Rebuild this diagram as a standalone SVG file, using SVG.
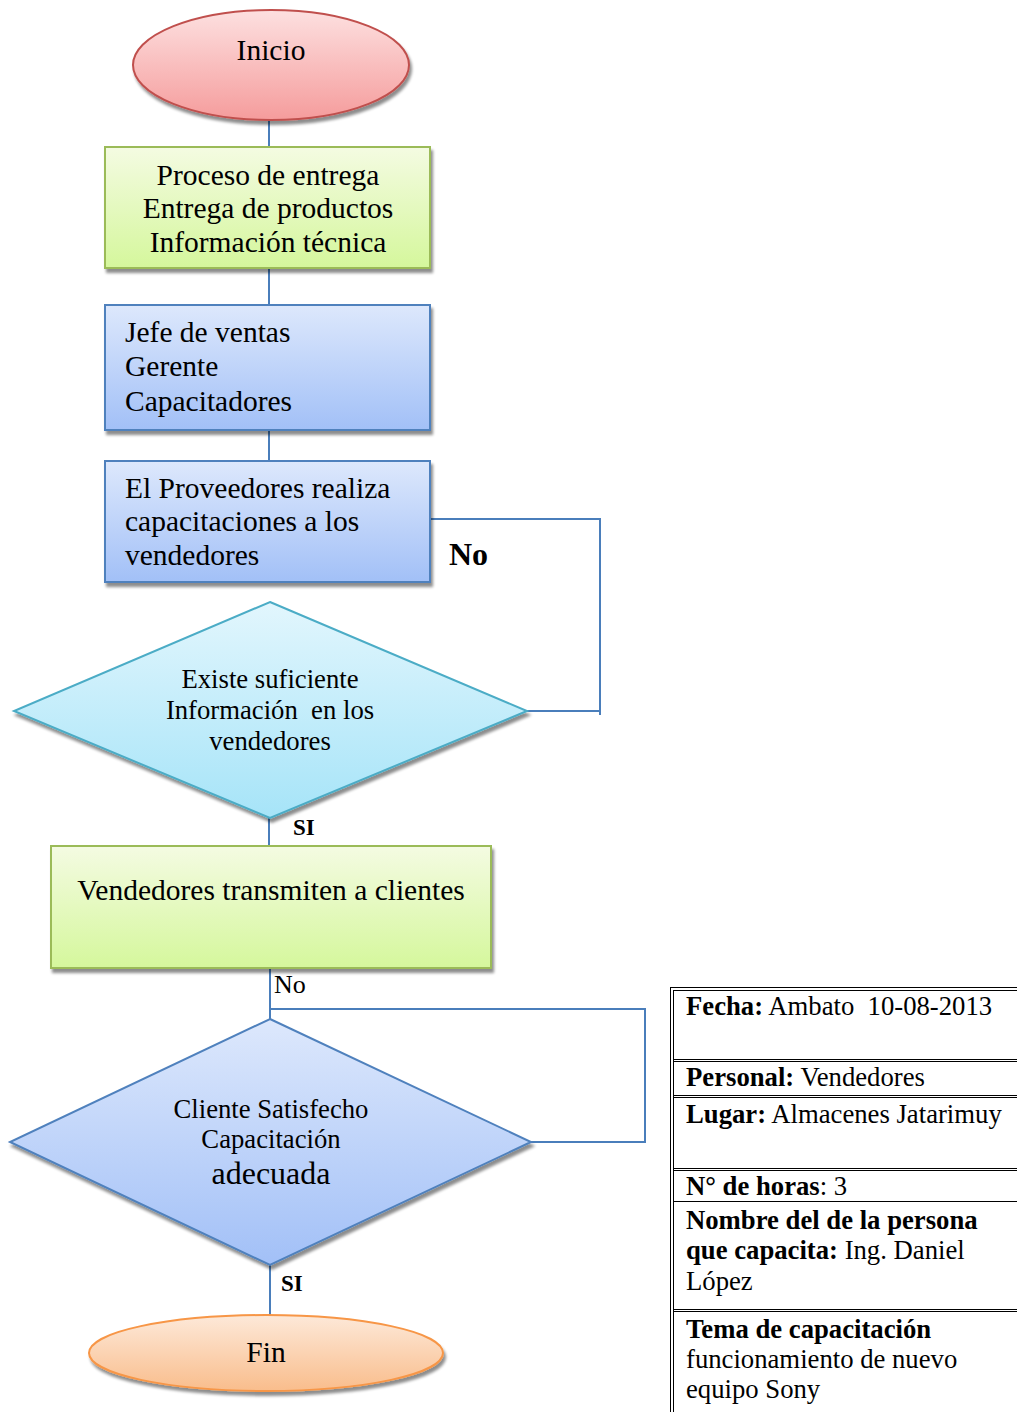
<svg xmlns="http://www.w3.org/2000/svg" width="1017" height="1412" viewBox="0 0 1017 1412">
  <defs>
    <linearGradient id="gRed" x1="0" y1="0" x2="0" y2="1">
      <stop offset="0" stop-color="#fde0e0"/>
      <stop offset="1" stop-color="#f59c9c"/>
    </linearGradient>
    <linearGradient id="gGreen" x1="0" y1="0" x2="0" y2="1">
      <stop offset="0" stop-color="#f4fbe2"/>
      <stop offset="1" stop-color="#d5f79c"/>
    </linearGradient>
    <linearGradient id="gBlue" x1="0" y1="0" x2="0" y2="1">
      <stop offset="0" stop-color="#dde8fc"/>
      <stop offset="1" stop-color="#a2c0f7"/>
    </linearGradient>
    <linearGradient id="gCyan" x1="0" y1="0" x2="0" y2="1">
      <stop offset="0" stop-color="#e2f6fd"/>
      <stop offset="1" stop-color="#a6e4f8"/>
    </linearGradient>
    <linearGradient id="gOrange" x1="0" y1="0" x2="0" y2="1">
      <stop offset="0" stop-color="#fde9d9"/>
      <stop offset="1" stop-color="#f9bd8c"/>
    </linearGradient>
    <filter id="shadow" x="-10%" y="-10%" width="125%" height="130%">
      <feGaussianBlur in="SourceAlpha" stdDeviation="1.5"/>
      <feOffset dx="2" dy="4" result="b"/>
      <feComponentTransfer><feFuncA type="linear" slope="0.45"/></feComponentTransfer>
      <feMerge><feMergeNode/><feMergeNode in="SourceGraphic"/></feMerge>
    </filter>
  </defs>
  <style>
    text { font-family: "Liberation Serif", "Times New Roman", serif; fill: #000; }
    .conn { fill: none; stroke: #4a7ebb; stroke-width: 2; }
    .green { fill: url(#gGreen); stroke: #9bbb59; stroke-width: 2; }
    .blue { fill: url(#gBlue); stroke: #4f81bd; stroke-width: 2; }
    .big { font-size: 29.5px; }
    .dia { font-size: 26.7px; }
    .mid { text-anchor: middle; }
    .tbl { fill: none; stroke: #000; stroke-width: 1; }
    .cell { font-size: 26.7px; }
    .b { font-weight: bold; }
  </style>

  <rect width="1017" height="1412" fill="#ffffff"/>

  <!-- connectors -->
  <g id="connectors">
    <line class="conn" x1="269" y1="120" x2="269" y2="147"/>
    <line class="conn" x1="269" y1="268" x2="269" y2="305"/>
    <line class="conn" x1="269" y1="430" x2="269" y2="461"/>
    <polyline class="conn" points="430,519 600,519 600,715"/>
    <line class="conn" x1="527" y1="711" x2="600" y2="711"/>
    <line class="conn" x1="269" y1="818" x2="269" y2="846"/>
    <line class="conn" x1="270" y1="968" x2="270" y2="1019"/>
    <polyline class="conn" points="270,1009 645,1009 645,1142 531,1142"/>
    <line class="conn" x1="270" y1="1265" x2="270" y2="1316"/>
    <text x="449" y="565" font-size="32" class="b">No</text>
    <text x="293" y="835" font-size="23" class="b">SI</text>
    <text x="274" y="993" font-size="26">No</text>
    <text x="281" y="1291" font-size="23" class="b">SI</text>
  </g>

  <g id="inicio">
    <ellipse cx="271" cy="65" rx="138" ry="55" fill="url(#gRed)" stroke="#c0504d" stroke-width="2" filter="url(#shadow)"/>
    <text x="271" y="60" class="big mid">Inicio</text>
  </g>

  <g id="proceso">
    <rect x="105" y="147" width="325" height="121" class="green" filter="url(#shadow)"/>
    <text x="268" y="185" class="big mid">Proceso de entrega</text>
    <text x="268" y="218" class="big mid">Entrega de productos</text>
    <text x="268" y="252" class="big mid">Información técnica</text>
  </g>

  <g id="jefes">
    <rect x="105" y="305" width="325" height="125" class="blue" filter="url(#shadow)"/>
    <text x="125" y="342" class="big">Jefe de ventas</text>
    <text x="125" y="376" class="big">Gerente</text>
    <text x="125" y="411" class="big">Capacitadores</text>
  </g>

  <g id="proveedores">
    <rect x="105" y="461" width="325" height="121" class="blue" filter="url(#shadow)"/>
    <text x="125" y="498" class="big">El Proveedores realiza</text>
    <text x="125" y="531" class="big">capacitaciones a los</text>
    <text x="125" y="565" class="big">vendedores</text>
  </g>

  <g id="decision-informacion">
    <polygon points="270,602 527,711 270,818 14,711" fill="url(#gCyan)" stroke="#4bacc6" stroke-width="2" filter="url(#shadow)"/>
    <text x="270" y="688" class="dia mid">Existe suficiente</text>
    <text x="270" y="719" class="dia mid" xml:space="preserve">Información  en los</text>
    <text x="270" y="750" class="dia mid">vendedores</text>
  </g>

  <g id="transmiten">
    <rect x="51" y="846" width="440" height="122" class="green" filter="url(#shadow)"/>
    <text x="271" y="900" class="big mid">Vendedores transmiten a clientes</text>
  </g>

  <g id="decision-cliente">
    <polygon points="270,1019 531,1142 270,1265 10,1142" fill="url(#gBlue)" stroke="#4f81bd" stroke-width="2" filter="url(#shadow)"/>
    <text x="271" y="1118" class="dia mid">Cliente Satisfecho</text>
    <text x="271" y="1148" class="dia mid">Capacitación</text>
    <text x="271" y="1184" font-size="32" class="mid">adecuada</text>
  </g>

  <g id="fin">
    <ellipse cx="266" cy="1353" rx="177" ry="38" fill="url(#gOrange)" stroke="#f79646" stroke-width="2" filter="url(#shadow)"/>
    <text x="266" y="1362" class="big mid">Fin</text>
  </g>

  <!-- information table -->
  <g id="info-table">
    <line class="tbl" x1="670.5" y1="987" x2="670.5" y2="1412"/>
    <line class="tbl" x1="673.5" y1="990" x2="673.5" y2="1412"/>
    <line class="tbl" x1="670" y1="987.5" x2="1017" y2="987.5"/>
    <line class="tbl" x1="673" y1="990.5" x2="1017" y2="990.5"/>
    <line class="tbl" x1="673" y1="1059.5" x2="1017" y2="1059.5"/>
    <line class="tbl" x1="673" y1="1061.5" x2="1017" y2="1061.5"/>
    <line class="tbl" x1="673" y1="1095.5" x2="1017" y2="1095.5"/>
    <line class="tbl" x1="673" y1="1097.5" x2="1017" y2="1097.5"/>
    <line class="tbl" x1="673" y1="1168.5" x2="1017" y2="1168.5"/>
    <line class="tbl" x1="673" y1="1170.5" x2="1017" y2="1170.5"/>
    <line class="tbl" x1="673" y1="1201.5" x2="1017" y2="1201.5"/>
    <line class="tbl" x1="673" y1="1309.5" x2="1017" y2="1309.5"/>
    <line class="tbl" x1="673" y1="1311.5" x2="1017" y2="1311.5"/>

    <text x="686" y="1015" class="cell" xml:space="preserve"><tspan class="b">Fecha:</tspan> Ambato  10-08-2013</text>
    <text x="686" y="1086" class="cell"><tspan class="b">Personal:</tspan> Vendedores</text>
    <text x="686" y="1123" class="cell"><tspan class="b">Lugar:</tspan> Almacenes Jatarimuy</text>
    <text x="686" y="1195" class="cell"><tspan class="b">N° de horas</tspan>: 3</text>
    <text x="686" y="1229" class="cell b">Nombre del de la persona</text>
    <text x="686" y="1259" class="cell"><tspan class="b">que capacita:</tspan> Ing. Daniel</text>
    <text x="686" y="1290" class="cell">López</text>
    <text x="686" y="1338" class="cell b">Tema de capacitación</text>
    <text x="686" y="1368" class="cell">funcionamiento de nuevo</text>
    <text x="686" y="1398" class="cell">equipo Sony</text>
  </g>
</svg>
